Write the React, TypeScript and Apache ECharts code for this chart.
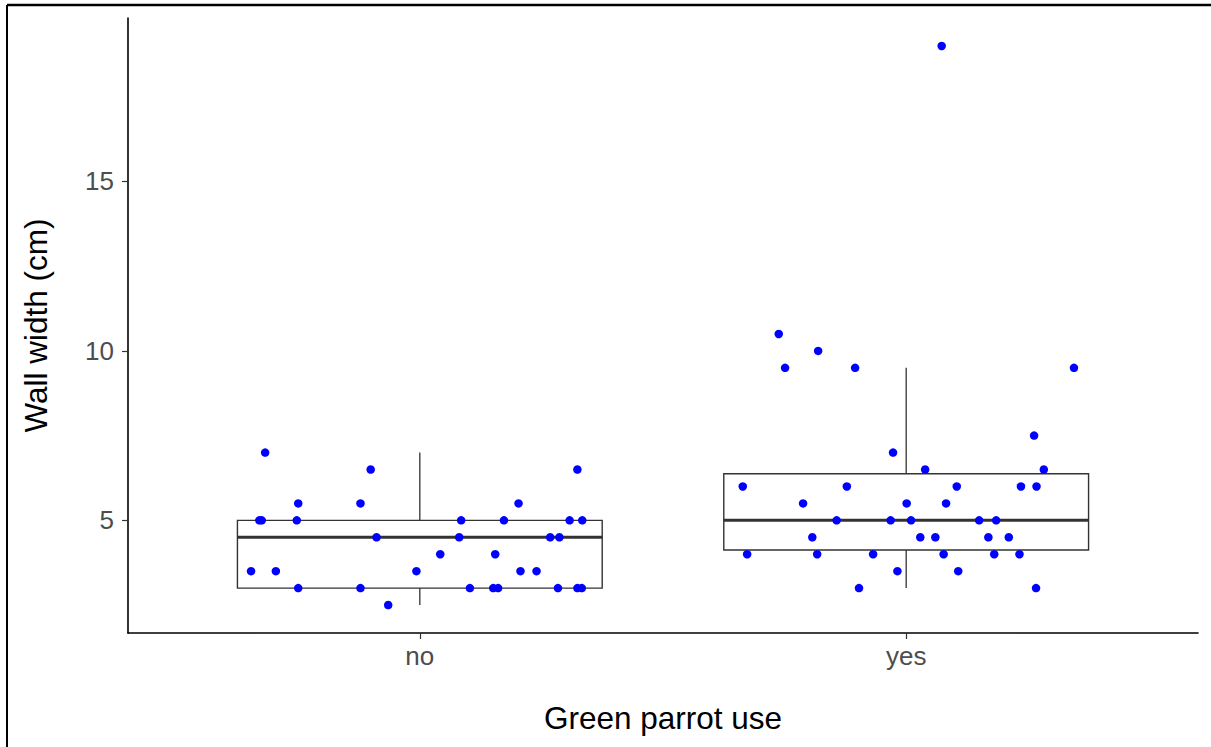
import React, { useEffect, useRef } from "react";
import * as echarts from "echarts";

const categories = ["no", "yes"];

const noValues = [7, 6.5, 6.5, 5.5, 5.5, 5.5, 5, 5, 5, 5, 5, 5, 5, 4.5, 4.5, 4.5, 4.5, 4, 4, 3.5, 3.5, 3.5, 3.5, 3.5, 3, 3, 3, 3, 3, 3, 3, 3, 2.5];
const noJitter = [-0.318, -0.101, 0.324, -0.25, -0.122, 0.203, -0.33, -0.325, -0.253, 0.085, 0.173, 0.308, 0.334, -0.089, 0.081, 0.268, 0.287, 0.042, 0.155, -0.347, -0.296, -0.007, 0.207, 0.24, -0.25, -0.122, 0.103, 0.151, 0.161, 0.284, 0.324, 0.333, -0.065];

const yesValues = [19, 10.5, 10, 9.5, 9.5, 9.5, 7.5, 7, 6.5, 6.5, 6, 6, 6, 6, 6, 5.5, 5.5, 5.5, 5, 5, 5, 5, 5, 4.5, 4.5, 4.5, 4.5, 4.5, 4, 4, 4, 4, 4, 4, 3.5, 3.5, 3, 3];
const yesJitter = [0.073, -0.262, -0.181, -0.249, -0.105, 0.345, 0.263, -0.027, 0.039, 0.283, -0.336, -0.122, 0.104, 0.236, 0.268, -0.212, 0.001, 0.082, -0.143, -0.032, 0.01, 0.15, 0.185, -0.193, 0.029, 0.06, 0.169, 0.211, -0.327, -0.183, -0.068, 0.077, 0.181, 0.233, -0.018, 0.107, -0.097, 0.267];

const yTicks = [5, 10, 15];

function quantile(sorted: number[], p: number) {
  const h = (sorted.length - 1) * p;
  const lo = Math.floor(h);
  const hi = Math.ceil(h);
  return sorted[lo] + (h - lo) * (sorted[hi] - sorted[lo]);
}

function boxStats(values: number[]) {
  const s = [...values].sort((a, b) => a - b);
  const q1 = quantile(s, 0.25);
  const med = quantile(s, 0.5);
  const q3 = quantile(s, 0.75);
  const iqr = q3 - q1;
  const lowFence = q1 - 1.5 * iqr;
  const highFence = q3 + 1.5 * iqr;
  const inside = s.filter((v) => v >= lowFence && v <= highFence);
  return [inside[0], q1, med, q3, inside[inside.length - 1]];
}

const FONT = "Liberation Sans, Arial, sans-serif";

export default function App() {
  const ref = useRef<HTMLDivElement>(null);
  useEffect(() => {
    document.body.style.margin = "0";
    const chart = echarts.init(ref.current!, null, { renderer: "svg" });
    const groups = [noValues, yesValues];
    const jitters = [noJitter, yesJitter];
    const boxData = groups.map((g, i) => [i + 1, ...boxStats(g)]);
    const pointData: number[][] = [];
    groups.forEach((g, i) => {
      g.forEach((v, j) => pointData.push([i + 1 + jitters[i][j], v]));
    });
    const half = 0.375;
    const lineColor = "#333333";

    chart.setOption({
      animation: false,
      backgroundColor: "#ffffff",
      grid: { left: 128, right: 13, top: 18, bottom: 114, containLabel: false },
      xAxis: {
        type: "value",
        min: 0.4,
        max: 2.6,
        name: "Green parrot use",
        nameLocation: "middle",
        nameGap: 69,
        nameTextStyle: { fontSize: 31.5, color: "#000000", fontFamily: FONT },
        splitLine: { show: false },
        axisLine: { show: true, lineStyle: { color: "#000000", width: 1.6 } },
        axisTick: { show: true, customValues: [1, 2], length: 6, lineStyle: { color: "#333333", width: 1.2 } },
        axisLabel: {
          customValues: [1, 2],
          formatter: (v: number) => categories[Math.round(v) - 1] ?? "",
          fontSize: 26,
          color: "#4D4D4D",
          margin: 10,
          fontFamily: FONT,
        },
      },
      yAxis: {
        type: "value",
        min: 1.675,
        max: 19.825,
        name: "Wall width (cm)",
        nameLocation: "middle",
        nameGap: 76,
        nameTextStyle: { fontSize: 31.5, color: "#000000", fontFamily: FONT },
        splitLine: { show: false },
        axisLine: { show: true, lineStyle: { color: "#000000", width: 1.6 } },
        axisTick: { show: true, customValues: yTicks, length: 6, lineStyle: { color: "#333333", width: 1.2 } },
        axisLabel: {
          customValues: yTicks,
          fontSize: 26,
          color: "#4D4D4D",
          margin: 14,
          fontFamily: FONT,
        },
      },
      graphic: [
        { type: "line", shape: { x1: 7, y1: 5, x2: 1211, y2: 5 }, style: { stroke: "#000000", lineWidth: 2.5 }, z: 100 },
        { type: "line", shape: { x1: 7, y1: 5, x2: 7, y2: 747 }, style: { stroke: "#000000", lineWidth: 2 }, z: 100 },
      ],
      series: [
        {
          type: "custom",
          z: 2,
          encode: { x: 0, y: [1, 2, 3, 4, 5] },
          data: boxData,
          renderItem: (params: any, api: any) => {
            const c = api.value(0);
            const mn = api.value(1);
            const q1 = api.value(2);
            const md = api.value(3);
            const q3 = api.value(4);
            const mx = api.value(5);
            const tl = api.coord([c - half, q3]);
            const br = api.coord([c + half, q1]);
            const pMin = api.coord([c, mn]);
            const pMax = api.coord([c, mx]);
            const pQ1 = api.coord([c, q1]);
            const pQ3 = api.coord([c, q3]);
            const mL = api.coord([c - half, md]);
            const mR = api.coord([c + half, md]);
            return {
              type: "group",
              children: [
                { type: "line", shape: { x1: pMax[0], y1: pMax[1], x2: pQ3[0], y2: pQ3[1] }, style: { stroke: lineColor, lineWidth: 1.3 } },
                { type: "line", shape: { x1: pMin[0], y1: pMin[1], x2: pQ1[0], y2: pQ1[1] }, style: { stroke: lineColor, lineWidth: 1.3 } },
                { type: "rect", shape: { x: tl[0], y: tl[1], width: br[0] - tl[0], height: br[1] - tl[1] }, style: { fill: "#ffffff", stroke: lineColor, lineWidth: 1.4 } },
                { type: "line", shape: { x1: mL[0], y1: mL[1], x2: mR[0], y2: mR[1] }, style: { stroke: lineColor, lineWidth: 3 } },
              ],
            };
          },
        },
        {
          type: "scatter",
          z: 3,
          data: pointData,
          symbol: "circle",
          symbolSize: 8.5,
          itemStyle: { color: "#0000FF", opacity: 1 },
        },
      ],
    });
    return () => chart.dispose();
  }, []);
  return <div ref={ref} style={{ width: 1211, height: 747 }} />;
}
